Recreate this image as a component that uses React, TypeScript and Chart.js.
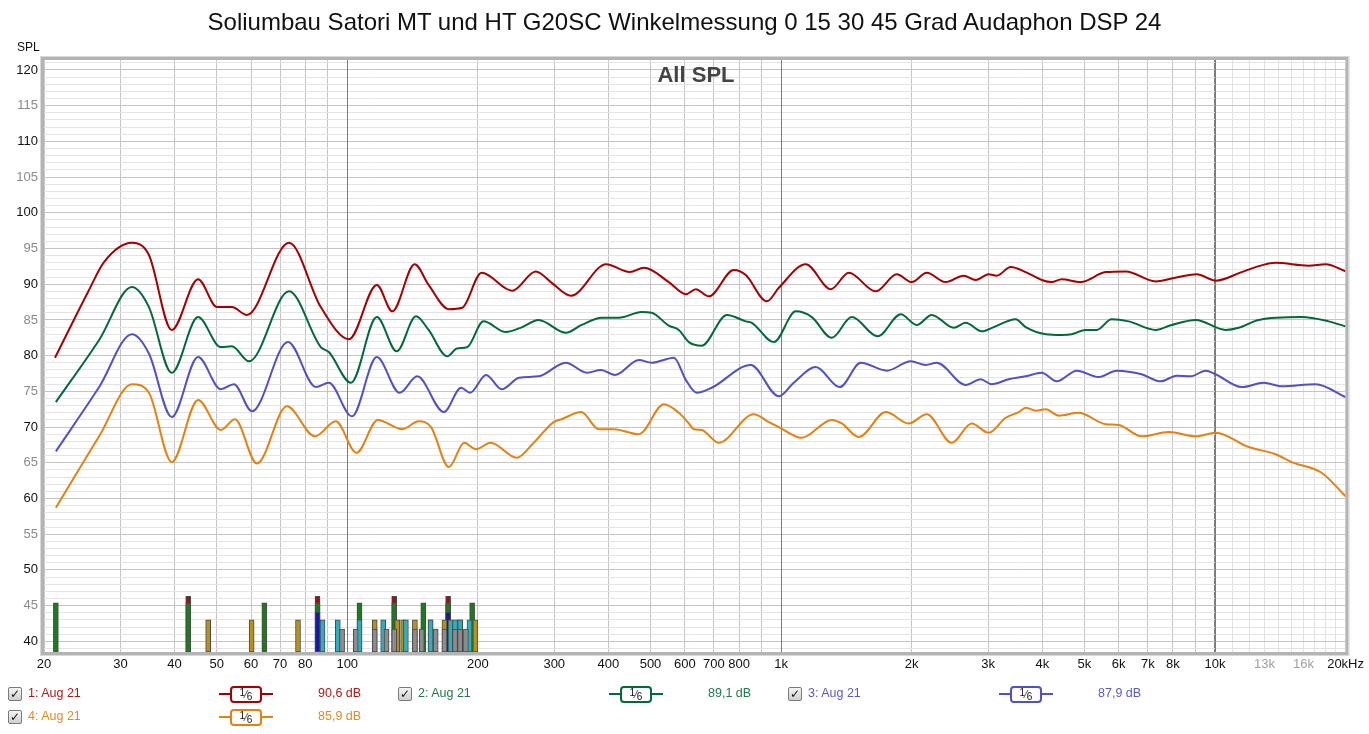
import React, { useEffect, useRef } from 'react';
import { Chart, registerables } from 'chart.js';

Chart.register(...registerables);

// ---------- data ----------
const redFreq = [21.2, 25.4, 27.5, 31.9, 34.9, 39.4, 45.3, 50.1, 54.2, 58.7, 73.4, 86.9, 100.9, 117, 127, 143, 154, 171.5, 184, 204, 240, 272, 296, 328, 395, 448, 483, 551, 603, 636, 681, 778, 829, 927, 988, 1140, 1302, 1432, 1653, 1847, 2000, 2166, 2395, 2635, 2809, 3009, 3140, 3382, 3663, 3986, 4204, 4434, 4904, 5598, 6226, 7300, 7948, 9074, 10034, 11520, 12408, 13798, 16434, 17986, 20000];
const redDb = [79.7, 89.2, 93.1, 95.8, 94.1, 83.6, 90.7, 86.8, 86.8, 85.7, 95.8, 86.8, 82.3, 89.9, 86.2, 92.8, 89.9, 86.5, 86.7, 91.6, 89.1, 91.8, 90.2, 88.4, 92.8, 91.7, 92.3, 90.3, 88.6, 89.3, 88.3, 92.0, 91.3, 87.6, 89.5, 92.8, 89.3, 91.6, 89.0, 91.4, 90.3, 91.6, 90.3, 91.2, 90.6, 91.4, 91.2, 92.4, 91.7, 90.6, 90.3, 90.7, 90.3, 91.7, 91.8, 90.4, 90.8, 91.4, 90.5, 91.7, 92.4, 93.0, 92.6, 92.8, 91.8];

const greenFreq = [21.3, 26.8, 31.9, 34.9, 39.4, 45.3, 51.1, 54.2, 59.4, 73.4, 86.9, 90.7, 102, 117, 130, 144, 154, 170, 179, 189, 206, 232, 253, 276, 319, 347, 386, 423, 477, 503, 551, 581, 613, 656, 750, 829, 856, 962, 1081, 1177, 1308, 1455, 1670, 1887, 2054, 2224, 2499, 2663, 2900, 3090, 3473, 3663, 4072, 4434, 4676, 5036, 5338, 5778, 6325, 7300, 7948, 9026, 10580, 11340, 12608, 15836, 18276, 20000];
const greenDb = [73.5, 82.2, 89.6, 86.8, 77.6, 85.4, 81.2, 81.3, 79.2, 89.0, 81.2, 80.5, 76.2, 85.4, 80.6, 85.5, 83.6, 79.9, 81.0, 81.2, 84.8, 83.3, 84.0, 85.0, 83.2, 84.3, 85.3, 85.3, 86.1, 86.0, 84.2, 83.6, 81.9, 81.4, 85.7, 84.8, 84.6, 81.9, 86.2, 85.4, 82.5, 85.4, 82.7, 85.8, 84.3, 85.7, 83.9, 84.6, 83.4, 84.0, 85.1, 84.0, 83.0, 82.9, 83.0, 83.6, 83.6, 85.1, 84.8, 83.6, 84.3, 85.0, 83.6, 83.9, 85.0, 85.4, 84.8, 84.1];

const blueFreq = [21.3, 26.8, 31.9, 34.9, 39.4, 45.3, 51.1, 54.8, 60.3, 73.0, 84.7, 90.7, 102.5, 117, 132, 145, 167, 183, 192, 209, 227, 249, 276, 319, 357, 384, 414, 470, 503, 566, 603, 639, 692, 851, 988, 1069, 1202, 1365, 1526, 1752, 1989, 2154, 2284, 2663, 2884, 3057, 3346, 3663, 3986, 4318, 4800, 5396, 5936, 6776, 7496, 8160, 8790, 9516, 10034, 11520, 12948, 14244, 17058, 20000];
const blueDb = [66.6, 75.6, 83.0, 80.3, 71.4, 79.8, 75.3, 76.0, 72.2, 81.9, 75.6, 76.2, 71.5, 79.8, 74.8, 77.1, 72.1, 75.5, 74.8, 77.3, 75.3, 76.9, 77.1, 79.0, 77.6, 78.0, 77.3, 79.4, 79.0, 79.7, 76.6, 74.8, 75.5, 78.7, 74.3, 76.2, 78.4, 75.6, 79.0, 77.9, 79.2, 78.7, 79.0, 75.9, 76.7, 76.0, 76.7, 77.1, 77.6, 76.4, 77.9, 77.0, 77.9, 77.4, 76.4, 77.2, 77.1, 77.9, 77.4, 75.6, 76.2, 75.7, 76.0, 74.2];

const orangeFreq = [21.3, 26.8, 31.9, 34.9, 39.4, 45.3, 51.1, 55.1, 61.9, 72.6, 84.2, 94.1, 105, 117.6, 134, 146, 156, 171.5, 186, 198, 214, 246, 269, 299, 312, 346, 380, 412, 470, 537, 581, 613, 629, 656, 718, 865, 937, 988, 1116, 1308, 1380, 1510, 1743, 1968, 2166, 2473, 2749, 3009, 3294, 3529, 3663, 3861, 4072, 4364, 4852, 5598, 5998, 6776, 7822, 9074, 10034, 11956, 13798, 15018, 17608, 20000];
const orangeDb = [58.7, 68.7, 76.0, 74.8, 65.1, 73.8, 69.6, 71.1, 64.9, 72.9, 68.7, 70.8, 66.4, 71.0, 69.7, 70.8, 70.0, 64.4, 67.8, 66.9, 67.8, 65.7, 67.8, 70.7, 71.1, 72.1, 69.7, 69.7, 69.0, 73.2, 72.0, 70.5, 69.7, 69.6, 67.8, 71.8, 70.7, 70.0, 68.5, 71.0, 70.5, 68.6, 72.1, 70.5, 71.8, 67.8, 70.5, 69.2, 71.3, 72.1, 72.7, 72.3, 72.5, 71.6, 72.0, 70.4, 70.3, 68.7, 69.3, 68.7, 69.2, 67.2, 66.2, 65.1, 63.6, 60.3];

// marker bars (frequency positions, top levels)
const markRedFreq = [43.0, 85.4, 128.3, 170.8];
const markGreenFreq = [21.3, 43.0, 64.4, 85.4, 106.7, 128.3, 149.7, 170.8, 194];
const markBlueFreq = [85.4, 170.8];
const markGoldFreq = [47.8, 60.2, 77.0, 115.7, 130.4, 134.5, 143.2, 155.6, 167.5, 182, 197.4];
const markTealFreq = [87.7, 95.1, 106.7, 121, 136.5, 155.6, 173, 177.2, 182, 191.3];
const markGrayFreq = [97.3, 104.6, 115.7, 123.2, 128.3, 143.2, 148.5, 159.9, 167.5, 177.2, 182, 187.7];
const markTops = { red: 46.3, green: 45.4, blue: 44.1, gold: 43.0, teal: 43.0, gray: 41.7 };

const yMin = 38.5;
const yMax = 121.4;
const xMin = 20;
const xMax = 20000;

const xTickValues = [20, 30, 40, 50, 60, 70, 80, 90, 100, 200, 300, 400, 500, 600, 700, 800, 900, 1000, 2000, 3000, 4000, 5000, 6000, 7000, 8000, 9000, 10000, 11000, 12000, 13000, 14000, 15000, 16000, 17000, 18000, 19000, 20000];
const xMajorValues = [100, 1000, 10000];
const xTickLabels: Record<number, string> = {
  20: '20', 30: '30', 40: '40', 50: '50', 60: '60', 70: '70', 80: '80', 100: '100',
  200: '200', 300: '300', 400: '400', 500: '500', 600: '600', 700: '700', 800: '800',
  1000: '1k', 2000: '2k', 3000: '3k', 4000: '4k', 5000: '5k', 6000: '6k', 7000: '7k', 8000: '8k',
  10000: '10k', 13000: '13k', 16000: '16k', 20000: '20kHz',
};

const legendLabels = ['1: Aug 21', '2: Aug 21', '3: Aug 21', '4: Aug 21'];
const legendLevels = ['90,6 dB', '89,1 dB', '87,9 dB', '85,9 dB'];

const RED = '#a80000';
const GREEN = '#006a3a';
const BLUE = '#5050c8';
const ORANGE = '#e6800e';
const seriesColors = [RED, GREEN, BLUE, ORANGE];
const legendTextColors = ['#b01818', '#1d7a4a', '#5a5ac8', '#e68a20'];

const titleText = 'Soliumbau Satori MT und HT G20SC Winkelmessung 0 15 30 45 Grad Audaphon DSP 24';

const FONT = '"Liberation Sans", Arial, sans-serif';

export default function App() {
  const ref = useRef<HTMLCanvasElement>(null);

  useEffect(() => {
    const canvas = ref.current;
    if (!canvas) return;
    const line = (f: number[], d: number[], color: string, order: number) => ({
      type: 'line' as const,
      data: f.map((x, i) => ({ x, y: d[i] })),
      borderColor: color,
      backgroundColor: color,
      borderWidth: 2,
      pointRadius: 0,
      cubicInterpolationMode: 'monotone' as const,
      fill: false,
      order,
    });
    const bars = (f: number[], top: number, color: string, order: number) => ({
      type: 'bar' as const,
      data: f.map((x) => ({ x, y: [yMin, top] })),
      backgroundColor: color,
      borderColor: '#4a4a4a',
      borderWidth: 1,
      borderSkipped: false,
      barThickness: 5,
      grouped: false,
      order,
    });

    const framePlugin = {
      id: 'frame',
      beforeDatasetsDraw(chart: any) {
        const { ctx, chartArea: a, scales } = chart;
        ctx.save();
        ctx.strokeStyle = '#7c7c7c';
        ctx.lineWidth = 1;
        xMajorValues.forEach((v) => {
          const px = Math.round(scales.x.getPixelForValue(v)) + 0.5;
          ctx.beginPath();
          ctx.moveTo(px, a.top);
          ctx.lineTo(px, a.bottom);
          ctx.stroke();
        });
        ctx.restore();
      },
      afterDraw(chart: any) {
        const { ctx, chartArea: a } = chart;
        ctx.save();
        ctx.strokeStyle = '#b4b4b4';
        ctx.lineWidth = 3;
        ctx.strokeRect(a.left - 1.5, a.top - 1.5, a.right - a.left + 3, a.bottom - a.top + 3);
        ctx.strokeStyle = '#d8d8d8';
        ctx.lineWidth = 1;
        ctx.strokeRect(a.left - 3.5, a.top - 3.5, a.right - a.left + 7, a.bottom - a.top + 7);
        ctx.restore();
      },
    };

    const chart = new Chart(canvas, {
      type: 'line',
      data: {
        datasets: [
          line(redFreq, redDb, RED, 0),
          line(greenFreq, greenDb, GREEN, 1),
          line(blueFreq, blueDb, BLUE, 2),
          line(orangeFreq, orangeDb, ORANGE, 3),
          bars(markRedFreq, markTops.red, '#a01010', 20),
          bars(markGreenFreq, markTops.green, '#1e7a1e', 19),
          bars(markBlueFreq, markTops.blue, '#1818a0', 18),
          bars(markGoldFreq, markTops.gold, '#b8901e', 17),
          bars(markTealFreq, markTops.teal, '#2ab0c0', 16),
          bars(markGrayFreq, markTops.gray, '#8c8c8c', 15),
        ] as any,
      },
      options: {
        responsive: false,
        animation: false,
        devicePixelRatio: 1,
        layout: { padding: { top: 60, left: 0, right: 21, bottom: 0 } },
        plugins: {
          legend: { display: false },
          title: { display: false },
          tooltip: { enabled: false },
        },
        scales: {
          x: {
            type: 'logarithmic',
            min: xMin,
            max: xMax,
            offset: false,
            border: { display: false },
            grid: {
              offset: false,
              drawTicks: false,
              lineWidth: 1,
              color: (c: any) => {
                const v = c.tick ? c.tick.value : 0;
                if (v === 100 || v === 1000 || v === 10000) return '#7c7c7c';
                if (v > 10000) return '#e2e2e2';
                return '#c4c4c4';
              },
            },
            afterBuildTicks: (scale: any) => {
              scale.ticks = xTickValues.map((v) => ({ value: v }));
            },
            afterFit: (scale: any) => {
              scale.height = 82;
            },
            ticks: {
              autoSkip: false,
              maxRotation: 0,
              minRotation: 0,
              padding: 5,
              font: { family: '"Liberation Sans Narrow", "Liberation Sans", Arial, sans-serif', size: 13 },
              color: (c: any) => {
                const v = c.tick ? c.tick.value : 0;
                return v === 13000 || v === 16000 ? '#a0a0a0' : '#111';
              },
              callback: (v: any) => xTickLabels[Number(v)] ?? '',
            },
          },
          y: {
            type: 'linear',
            min: yMin,
            max: yMax,
            border: { display: false },
            grid: {
              drawTicks: false,
              color: (c: any) => {
                const v = c.tick ? c.tick.value : 0;
                return v % 5 === 0 ? '#c4c4c4' : '#e4e4e4';
              },
            },
            afterBuildTicks: (scale: any) => {
              const t = [];
              for (let v = 39; v <= 121; v++) t.push({ value: v });
              scale.ticks = t;
            },
            afterFit: (scale: any) => {
              scale.width = 44;
            },
            ticks: {
              autoSkip: false,
              padding: 6,
              font: { family: FONT, size: 13 },
              color: (c: any) => {
                const v = c.tick ? c.tick.value : 0;
                return v % 10 === 0 ? '#111' : '#8a8a8a';
              },
              callback: (v: any) => (Number(v) % 5 === 0 ? String(v) : ''),
            },
          },
        },
      },
      plugins: [framePlugin],
    } as any);

    return () => chart.destroy();
  }, []);

  const checkbox = (left: number, top: number) => (
    <div
      style={{
        position: 'absolute',
        left,
        top,
        width: 12,
        height: 12,
        border: '1px solid #7a7a7a',
        borderRadius: 2,
        background: 'linear-gradient(#f4f4f4, #cfcfcf)',
        fontSize: 12,
        lineHeight: '12px',
        textAlign: 'center',
        color: '#111',
        fontFamily: '"DejaVu Sans", sans-serif',
        fontWeight: 'bold',
      }}
    >
      ✓
    </div>
  );

  const legendItem = (i: number) => {
    const col = i % 3;
    const row = Math.floor(i / 3);
    const baseX = 8 + col * 390;
    const baseY = 687 + row * 23;
    const color = seriesColors[i];
    const tcolor = legendTextColors[i];
    return (
      <React.Fragment key={i}>
        {checkbox(baseX, baseY)}
        <div style={{ position: 'absolute', left: baseX + 20, top: baseY - 1, fontSize: 12.5, color: tcolor, fontFamily: FONT, whiteSpace: 'nowrap' }}>
          {legendLabels[i]}
        </div>
        <div style={{ position: 'absolute', left: baseX + 211, top: baseY + 6, width: 54, height: 2, background: color }} />
        <div
          style={{
            position: 'absolute',
            left: baseX + 222,
            top: baseY - 1,
            width: 28,
            height: 13,
            border: `2px solid ${color}`,
            borderRadius: 4,
            background: '#fff',
            fontSize: 10,
            fontFamily: FONT,
            color: '#111',
            textAlign: 'center',
            lineHeight: '13px',
          }}
        >
          <span style={{ position: 'relative', top: -2 }}>1</span>
          <span>⁄</span>
          <span style={{ position: 'relative', top: 2 }}>6</span>
        </div>
        <div style={{ position: 'absolute', left: baseX + 310, top: baseY - 1, fontSize: 12.5, color: tcolor, fontFamily: FONT, whiteSpace: 'nowrap' }}>
          {legendLevels[i]}
        </div>
      </React.Fragment>
    );
  };

  return (
    <div style={{ position: 'fixed', left: 0, top: 0, width: 1369, height: 734, background: '#fff', overflow: 'hidden' }}>
      <canvas ref={ref} width={1369} height={734} style={{ position: 'absolute', left: 0, top: 0, width: 1369, height: 734 }} />
      <div style={{ position: 'absolute', left: 0, top: 8, width: 1369, textAlign: 'center', fontFamily: FONT, fontSize: 24, color: '#111', whiteSpace: 'nowrap' }}>
        {titleText}
      </div>
      <div style={{ position: 'absolute', left: 17, top: 40, fontFamily: FONT, fontSize: 12, color: '#111' }}>SPL</div>
      <div style={{ position: 'absolute', left: 44, width: 1304, top: 62, textAlign: 'center', fontFamily: FONT, fontSize: 22, fontWeight: 'bold', color: '#444' }}>
        All SPL
      </div>
      {[0, 1, 2, 3].map(legendItem)}
    </div>
  );
}
